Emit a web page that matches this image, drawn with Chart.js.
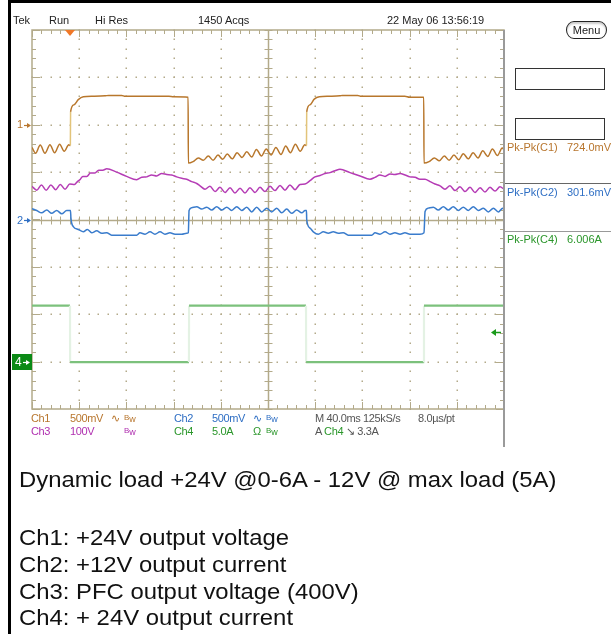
<!DOCTYPE html>
<html>
<head>
<meta charset="utf-8">
<script src="https://cdn.jsdelivr.net/npm/chart.js@4.4.0/dist/chart.umd.min.js"></script>
<style>
  html, body { margin: 0; padding: 0; background: #fff; }
  #wrap { position: relative; width: 611px; height: 634px; overflow: hidden;
          font-family: "Liberation Sans", Arial, sans-serif; }
  #scope { position: absolute; left: 0; top: 0; }
  .t { position: absolute; font-size: 11px; line-height: 12px; white-space: nowrap; color: #222; }
  .s { letter-spacing: -0.35px; }
  .c1 { color: #b8762e; } .c2 { color: #2f6fc4; } .c3 { color: #b030b0; } .c4 { color: #2a962a; }
  .g { color: #555; }
  .bw b { font-weight: normal; font-size: 8px; vertical-align: 2px; }
  .bw i { font-style: normal; font-size: 9px; }
  .cap { position: absolute; left: 19px; font-size: 22px; line-height: 26px; white-space: nowrap; color: #111;
         transform: scaleX(1.085); transform-origin: 0 0; }
  .box { position: absolute; border: 1px solid #333; background: #fff; }
</style>
</head>
<body>
<div id="wrap">
  <canvas id="scope" width="611" height="634"></canvas>

  <!-- cadre -->
  <div style="position:absolute;left:8px;top:0;width:603px;height:3px;background:#000"></div>
  <div style="position:absolute;left:8px;top:0;width:3px;height:634px;background:#000"></div>
  <div style="position:absolute;left:503px;top:30px;width:2px;height:417px;background:#9a9a9a"></div>
  <div style="position:absolute;left:505px;top:183px;width:106px;height:1px;background:#666"></div>
  <div style="position:absolute;left:505px;top:231px;width:106px;height:1px;background:#999"></div>

  <!-- barre du haut -->
  <div class="t" style="left:13px;top:14px">Tek</div>
  <div class="t" style="left:49px;top:14px">Run</div>
  <div class="t" style="left:95px;top:14px">Hi Res</div>
  <div class="t" style="left:198px;top:14px">1450 Acqs</div>
  <div class="t" style="left:387px;top:14px">22 May 06 13:56:19</div>
  <div style="position:absolute;left:566px;top:21px;width:39px;height:16px;border:1px solid #222;border-radius:8px/9px;
              box-shadow:inset 0 2px 2px #ccc;font-size:11px;line-height:16px;text-align:center;color:#222">Menu</div>

  <!-- panneau de mesures -->
  <div class="box" style="left:515px;top:68px;width:88px;height:20px"></div>
  <div class="box" style="left:515px;top:118px;width:88px;height:20px"></div>
  <div class="t c1" style="left:507px;top:141px">Pk-Pk(C1)</div>
  <div class="t c1" style="left:567px;top:141px">724.0mV</div>
  <div class="t c2" style="left:507px;top:186px">Pk-Pk(C2)</div>
  <div class="t c2" style="left:567px;top:186px">301.6mV</div>
  <div class="t c4" style="left:507px;top:233px">Pk-Pk(C4)</div>
  <div class="t c4" style="left:567px;top:233px">6.006A</div>

  <!-- repères des voies -->
  <div class="t c1" style="left:17px;top:118px">1</div>
  <div class="t c2" style="left:17px;top:214px">2</div>
  <div class="t" style="left:15px;top:356px;color:#fff;font-size:12px">4</div>

  <!-- ligne d'état -->
  <div class="t s c1" style="left:31px;top:412px">Ch1</div>
  <div class="t s c1" style="left:70px;top:412px">500mV</div>
  <div class="t c1" style="left:111px;top:412px">∿</div>
  <div class="t c1 bw" style="left:124px;top:412px"><b>B</b><i>w</i></div>
  <div class="t s c2" style="left:174px;top:412px">Ch2</div>
  <div class="t s c2" style="left:212px;top:412px">500mV</div>
  <div class="t c2" style="left:253px;top:412px">∿</div>
  <div class="t c2 bw" style="left:266px;top:412px"><b>B</b><i>w</i></div>
  <div class="t s g" style="left:315px;top:412px">M 40.0ms</div>
  <div class="t s g" style="left:363px;top:412px">125kS/s</div>
  <div class="t s g" style="left:418px;top:412px">8.0µs/pt</div>
  <div class="t s c3" style="left:31px;top:425px">Ch3</div>
  <div class="t s c3" style="left:70px;top:425px">100V</div>
  <div class="t c3 bw" style="left:124px;top:425px"><b>B</b><i>w</i></div>
  <div class="t s c4" style="left:174px;top:425px">Ch4</div>
  <div class="t s c4" style="left:212px;top:425px">5.0A</div>
  <div class="t c4" style="left:253px;top:425px">Ω</div>
  <div class="t c4 bw" style="left:266px;top:425px"><b>B</b><i>w</i></div>
  <div class="t s g" style="left:315px;top:425px">A <span class="c4">Ch4</span> ↘ 3.3A</div>

  <!-- légende -->
  <div class="cap" style="top:467px">Dynamic load +24V @0-6A - 12V @ max load (5A)</div>
  <div class="cap" style="top:525px">Ch1: +24V output voltage</div>
  <div class="cap" style="top:552px">Ch2: +12V output current</div>
  <div class="cap" style="top:579px">Ch3: PFC output voltage (400V)</div>
  <div class="cap" style="top:605px">Ch4: + 24V output current</div>
</div>

<script>
// Axes : temps en ms (40 ms/div), tension en divisions (0 = centre).
const timeDivs = [0, 40, 80, 120, 160, 200, 240, 280, 320, 360, 400];
const voltDivs = [-4, -3, -2, -1, 0, 1, 2, 3, 4];

// Repères de masse des voies (div).
const chOffsets = { ch1: 2, ch2: 0, ch4: -3 };
const trigTime = 32.2;
const trigLevel = -2.38;

// Ch1 : +24V (brun).
const ch1Points = [
  [0,1.52],[3,1.40],[7,1.57],[11,1.40],[15.2,1.58],[19.2,1.41],[23.4,1.59],[27.3,1.44],[31.2,1.58],[32.5,1.56],
  [32.7,2.27],[35.5,2.42],[39.2,2.53],[43.5,2.59],[52,2.60],[62,2.61],[65,2.62],[76,2.62],[79,2.60],[116,2.60],
  [120,2.59],[132.3,2.58],[132.5,1.19],
  [136.5,1.22],[141,1.30],[145.2,1.25],[149.4,1.34],[153.5,1.25],[157.6,1.36],[161.6,1.27],[165.5,1.38],
  [169.7,1.28],[173.8,1.41],[178,1.31],[182,1.43],[186.2,1.32],[190.2,1.48],[194.4,1.34],[198.5,1.49],
  [202.6,1.36],[206.7,1.52],[211,1.37],[215,1.55],[219,1.41],[223.2,1.59],[227.3,1.44],[231.2,1.58],[232.6,1.56],
  [232.8,2.27],[235.5,2.42],[239.2,2.54],[243.5,2.59],[252,2.60],[261,2.61],[263,2.62],[276,2.62],[279,2.60],
  [316,2.60],[320,2.58],[332,2.58],[332.2,1.19],
  [336.5,1.22],[341,1.30],[345.2,1.24],[349.4,1.34],[353.5,1.25],[357.6,1.36],[361.6,1.26],[365.5,1.39],
  [369.7,1.28],[373.8,1.41],[378,1.30],[382,1.45],[386.2,1.33],[390.2,1.49],[394.4,1.35],[398.5,1.51],[400,1.47]
];

// Ch2 : courant +12V (bleu).
const ch2Points = [
  [0,0.23],[4,0.19],[8.2,0.14],[12.5,0.20],[16.7,0.13],[20.9,0.19],[25.2,0.12],[29.4,0.19],[32.6,0.19],
  [33.0,0.03],[35,-0.15],[39.2,-0.21],[43.5,-0.26],[46.9,-0.21],[50.6,-0.28],[54.8,-0.24],[59.1,-0.29],
  [63.3,-0.28],[67.5,-0.33],[88.7,-0.33],[91.5,-0.28],[95.8,-0.31],[100,-0.26],[104.2,-0.31],[108.5,-0.26],
  [112.7,-0.31],[116.9,-0.28],[121.2,-0.31],[126.9,-0.31],[131.1,-0.29],[132.5,-0.28],
  [133.1,0.19],[135.3,0.25],[139.6,0.27],[143.8,0.22],[148.1,0.26],[152.3,0.20],[156.5,0.27],[160.8,0.20],
  [165,0.26],[169.2,0.19],[173.5,0.27],[177.7,0.19],[182,0.26],[186.2,0.16],[190.4,0.26],[194.7,0.16],
  [198.9,0.24],[203.1,0.16],[207.4,0.24],[211.6,0.14],[215.8,0.22],[220.1,0.13],[224.3,0.20],[228.6,0.14],
  [231.4,0.19],[232.6,0.19],
  [232.8,0.00],[235.6,-0.18],[238.4,-0.26],[242.6,-0.31],[246.9,-0.26],[251.1,-0.29],[255.3,-0.26],
  [259.6,-0.29],[263.8,-0.28],[268,-0.33],[287.9,-0.33],[290.7,-0.28],[294.9,-0.31],[299.2,-0.26],
  [303.4,-0.31],[307.6,-0.28],[311.9,-0.31],[316.1,-0.28],[320.3,-0.31],[324.6,-0.31],[328.8,-0.31],
  [332.2,-0.28],
  [333.1,0.17],[335.8,0.24],[340.1,0.26],[344.3,0.20],[348.6,0.27],[352.8,0.20],[357,0.27],[361.3,0.19],
  [365.5,0.26],[369.7,0.19],[374,0.27],[378.2,0.19],[382.5,0.24],[386.7,0.16],[391,0.24],[395.2,0.16],
  [398.9,0.24],[400,0.22]
];

// Ch3 : sortie PFC (magenta).
const ch3Points = [
  [0,0.70],[4,0.62],[8,0.73],[12,0.62],[16,0.73],[20,0.63],[24,0.74],[28,0.64],[32,0.75],[36,0.74],
  [38.5,0.80],[41,0.85],[43,0.91],[46.5,0.91],[49.5,0.98],[53,0.98],[56.5,1.04],[60,1.04],[63.3,1.07],
  [71.7,1.00],[80.2,0.91],[88.7,0.84],[93,0.89],[97.2,0.90],[101.4,0.94],[105.7,0.92],[109.9,0.97],
  [114.2,0.95],[118.4,0.94],[122.6,0.90],[126.9,0.87],[131.1,0.85],[135.3,0.80],[139.6,0.76],[142.4,0.71],
  [146.6,0.64],[150.8,0.70],[155.1,0.59],[159.3,0.68],[163.6,0.57],[167.8,0.67],[172,0.56],[176.3,0.66],
  [180.5,0.56],[184.7,0.67],[189,0.57],[193.2,0.68],[197.5,0.59],[201.7,0.70],[205.9,0.61],[210.2,0.72],
  [214.4,0.62],[218.6,0.73],[222.9,0.63],[227.1,0.74],
  [231.4,0.75],[235.6,0.82],[239.8,0.90],[244.1,0.93],[248.3,0.97],[252.5,0.99],[256.8,1.03],[261,1.06],
  [269.5,0.99],[278,0.92],[286.4,0.85],[290.7,0.89],[294.9,0.94],[299.2,0.91],[303.4,0.96],[307.6,0.95],
  [311.9,0.97],[316.1,0.94],[320.3,0.90],[324.6,0.89],[328.8,0.85],[333.1,0.85],[337.3,0.80],[341.5,0.75],
  [345.8,0.71],[350,0.64],[354.2,0.71],[358.5,0.61],[362.7,0.69],[366.9,0.59],[371.2,0.68],[375.4,0.57],
  [379.7,0.67],[383.9,0.58],[388.1,0.68],[392.4,0.60],[396.6,0.69],[400,0.64]
];

// Ch4 : courant +24V (vert).
const ch4Points = [
  [0,-1.82],[32.2,-1.82],[32.3,-3.01],[133.0,-3.01],[133.1,-1.82],[232.2,-1.82],[232.3,-3.01],
  [332.1,-3.01],[332.2,-1.82],[400,-1.82]
];

const gratColor = '#b3aa8a';

// graticule, repères et flèches.
const graticule = {
  id: 'graticule',
  beforeDatasetsDraw(chart) {
    const { ctx, chartArea: a, scales: { x, y } } = chart;
    ctx.save();
    ctx.fillStyle = gratColor;
    ctx.strokeStyle = gratColor;

    // pointillés
    for (let i = 1; i < timeDivs.length - 1; i++) {
      if (timeDivs[i] === 200) continue;
      const px = Math.round(x.getPixelForValue(timeDivs[i]));
      for (let v = -4; v <= 4.001; v += 0.2) {
        ctx.fillRect(px - 0.5, Math.round(y.getPixelForValue(v)) - 0.5, 1.5, 1.5);
      }
    }
    for (let j = 1; j < voltDivs.length - 1; j++) {
      if (voltDivs[j] === 0) continue;
      const py = Math.round(y.getPixelForValue(voltDivs[j]));
      for (let t = 0; t <= 400.01; t += 8) {
        ctx.fillRect(Math.round(x.getPixelForValue(t)) - 0.5, py - 0.5, 1.5, 1.5);
      }
    }

    // cadre
    ctx.lineWidth = 1.5;
    ctx.strokeRect(a.left, a.top, a.right - a.left, a.bottom - a.top);

    const cx = Math.round(x.getPixelForValue(200)) + 0.5;
    const cy = Math.round(y.getPixelForValue(0)) + 0.5;
    ctx.beginPath();
    ctx.moveTo(cx, a.top); ctx.lineTo(cx, a.bottom);
    ctx.moveTo(a.left, cy); ctx.lineTo(a.right, cy);
    ctx.stroke();

    // graduations
    ctx.lineWidth = 1;
    ctx.beginPath();
    for (let t = 0; t <= 400.01; t += 8) {
      const px = Math.round(x.getPixelForValue(t)) + 0.5;
      const major = Math.abs(t % 40) < 0.01;
      const len = major ? 7 : 4;
      ctx.moveTo(px, a.top); ctx.lineTo(px, a.top + len);
      ctx.moveTo(px, a.bottom); ctx.lineTo(px, a.bottom - len);
      ctx.moveTo(px, cy - 4); ctx.lineTo(px, cy + 4);
    }
    for (let v = -4; v <= 4.001; v += 0.2) {
      const py = Math.round(y.getPixelForValue(v)) + 0.5;
      const major = Math.abs(v - Math.round(v)) < 0.01;
      const len = major ? 8 : 4;
      ctx.moveTo(a.left, py); ctx.lineTo(a.left + len, py);
      ctx.moveTo(a.right, py); ctx.lineTo(a.right - len, py);
      ctx.moveTo(cx - 4, py); ctx.lineTo(cx + 4, py);
    }
    ctx.stroke();

    // flèches de masse
    const arrow = (x0, x1, py, col) => {
      ctx.strokeStyle = col; ctx.fillStyle = col; ctx.lineWidth = 1.2;
      ctx.beginPath(); ctx.moveTo(x0, py); ctx.lineTo(x1 - 3, py); ctx.stroke();
      ctx.beginPath(); ctx.moveTo(x1, py); ctx.lineTo(x1 - 4, py - 2.5); ctx.lineTo(x1 - 4, py + 2.5); ctx.closePath(); ctx.fill();
    };
    arrow(24, 31, Math.round(y.getPixelForValue(chOffsets.ch1)) + 0.5, '#b8762e');
    arrow(24, 31, Math.round(y.getPixelForValue(chOffsets.ch2)) + 0.5, '#2f6fc4');
    const y4 = Math.round(y.getPixelForValue(chOffsets.ch4));
    ctx.fillStyle = '#0b8a16';
    ctx.fillRect(12, y4 - 8, 20, 16);
    arrow(23, 30, y4 + 0.5, '#ffffff');

    // position de déclenchement
    const tx = x.getPixelForValue(trigTime);
    ctx.fillStyle = '#f07828';
    ctx.beginPath(); ctx.moveTo(tx - 5, a.top); ctx.lineTo(tx + 5, a.top); ctx.lineTo(tx, a.top + 6); ctx.closePath(); ctx.fill();

    // niveau de déclenchement
    const ty = Math.round(y.getPixelForValue(trigLevel)) + 0.5;
    ctx.strokeStyle = '#1a9a1a'; ctx.fillStyle = '#1a9a1a'; ctx.lineWidth = 1.5;
    ctx.beginPath(); ctx.moveTo(a.right - 3, ty); ctx.lineTo(a.right - 10, ty); ctx.stroke();
    ctx.beginPath(); ctx.moveTo(a.right - 13, ty); ctx.lineTo(a.right - 8, ty - 3.5); ctx.lineTo(a.right - 8, ty + 3.5); ctx.closePath(); ctx.fill();
    ctx.restore();
  }
};

const isEdge = (c) => Math.abs(c.p1.parsed.x - c.p0.parsed.x) < 0.5;

function trace(points, color, width, extra) {
  return Object.assign({
    data: points.map(p => ({ x: p[0], y: p[1] })),
    borderColor: color,
    borderWidth: width,
    pointRadius: 0,
    fill: false,
    cubicInterpolationMode: 'monotone',
  }, extra || {});
}

new Chart(document.getElementById('scope'), {
  type: 'line',
  data: {
    datasets: [
      trace(ch4Points, '#7cc17c', 2.2, {
        cubicInterpolationMode: 'default', tension: 0,
        segment: { borderColor: c => isEdge(c) ? '#e4f2e4' : undefined }
      }),
      trace(ch2Points, '#3a7ccc', 1.5),
      trace(ch3Points, '#b53cb5', 1.5),
      trace(ch1Points, '#b8772c', 1.5, {
        segment: { borderColor: c => (isEdge(c) && c.p1.parsed.y > c.p0.parsed.y) ? '#e2c47a' : undefined }
      }),
    ]
  },
  options: {
    responsive: false,
    animation: false,
    layout: { padding: { left: 32, top: 30, right: 107, bottom: 225 } },
    plugins: { legend: { display: false }, tooltip: { enabled: false } },
    scales: {
      x: { type: 'linear', min: 0, max: 400, display: false },
      y: { type: 'linear', min: -4, max: 4, display: false }
    }
  },
  plugins: [graticule]
});
</script>
</body>
</html>
